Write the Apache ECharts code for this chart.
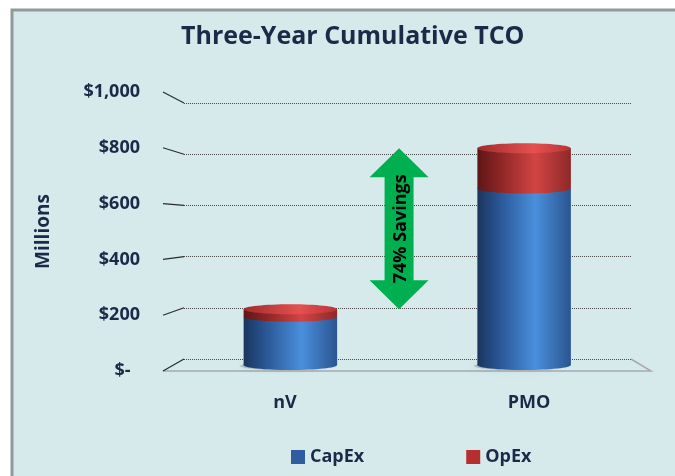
<!DOCTYPE html>
<html>
<head>
<meta charset="utf-8">
<script src="https://cdn.jsdelivr.net/npm/echarts@6/dist/echarts.min.js"></script>
<style>
    html, body { margin: 0; padding: 0; background: #fff; }
    #chart { width: 675px; height: 476px; }
</style>
</head>
<body>
<div id="chart"></div>
<script>
var categories = ['nV', 'PMO'];
var capex = [180, 660];
var opex = [28, 150];
var yTicks = [0, 200, 400, 600, 800, 1000];
var seriesNames = ['CapEx', 'OpEx'];
var savingsText = '74% Savings';

// 3d look: labels sit on the front plane, gridlines on the back wall, bars in between
var FRONT = {left: 163, right: 24, top: 92, bottom: 105};
var BACK = {left: 184, right: 44, top: 103, bottom: 117};
var MID = {
    left: (FRONT.left + BACK.left) / 2, right: (FRONT.right + BACK.right) / 2,
    top: (FRONT.top + BACK.top) / 2, bottom: (FRONT.bottom + BACK.bottom) / 2
};
var W = 675, H = 476;
var FONT = 'Open Sans';
var NAVY = '#1c2a47';

var blueSide = [
    {offset: 0, color: '#1a355e'}, {offset: 0.25, color: '#2b5898'},
    {offset: 0.62, color: '#4a8fdc'}, {offset: 1, color: '#2a5590'}
];
var redSide = [
    {offset: 0, color: '#5e1616'}, {offset: 0.25, color: '#8e2626'},
    {offset: 0.62, color: '#d24444'}, {offset: 1, color: '#8e2828'}
];
var redTop = [
    {offset: 0, color: '#a02c2c'}, {offset: 0.6, color: '#e65050'}, {offset: 1, color: '#b83434'}
];

function cylinder(name, lows, highs, side, top, legendColor, isBottom) {
    return {
        type: 'custom',
        name: name,
        xAxisIndex: 1,
        yAxisIndex: 1,
        itemStyle: {color: legendColor},
        data: categories.map(function (c, i) { return [i, lows[i], highs[i]]; }),
        encode: {x: 0, y: [1, 2]},
        renderItem: function (params, api) {
            var i = api.value(0);
            var p0 = api.coord([i, api.value(1)]);
            var p1 = api.coord([i, api.value(2)]);
            var w = api.size([1, 0])[0] * 0.4;
            var rx = w / 2, ry = 5;
            var fill = new echarts.graphic.LinearGradient(0, 0, 1, 0, side);
            var kids = [];
            if (isBottom) {
                kids.push({
                    type: 'ellipse',
                    shape: {cx: p0[0] - 8, cy: p0[1] + 1, rx: rx * 0.9, ry: ry - 1},
                    style: {fill: 'rgba(60,70,80,0.25)', shadowBlur: 6, shadowColor: 'rgba(0,0,0,0.35)'}
                });
            }
            kids.push({type: 'ellipse', shape: {cx: p0[0], cy: p0[1], rx: rx, ry: ry}, style: {fill: fill}});
            kids.push({type: 'rect', shape: {x: p0[0] - rx, y: p1[1], width: w, height: p0[1] - p1[1]}, style: {fill: fill}});
            if (top) {
                kids.push({
                    type: 'ellipse', shape: {cx: p1[0], cy: p1[1], rx: rx, ry: ry},
                    style: {fill: new echarts.graphic.LinearGradient(0, 0, 1, 0, top)}
                });
            }
            return {type: 'group', children: kids};
        }
    };
}

var totals = capex.map(function (v, i) { return v + opex[i]; });
var zeros = capex.map(function () { return 0; });

var chart = echarts.init(document.getElementById('chart'));

function yAxisFor(grid, extra) {
    var a = {type: 'value', gridIndex: grid, min: 0, max: 1000, interval: 200,
        axisLine: {show: false}, axisTick: {show: false}, axisLabel: {show: false}, splitLine: {show: false}};
    for (var k in extra) a[k] = extra[k];
    return a;
}
function xAxisFor(grid, extra) {
    var a = {type: 'category', gridIndex: grid, data: categories,
        axisLine: {show: false}, axisTick: {show: false}, axisLabel: {show: false}, splitLine: {show: false}};
    for (var k in extra) a[k] = extra[k];
    return a;
}

var option = {
    backgroundColor: '#d6eaec',
    animation: false,
    title: {
        text: 'Three-Year Cumulative TCO',
        left: 176, top: 19,
        textStyle: {fontFamily: FONT, fontWeight: 'bold', fontSize: 25, color: NAVY}
    },
    legend: {
        left: 286, top: 443,
        itemWidth: 14, itemHeight: 14, itemGap: 102,
        icon: 'rect',
        data: seriesNames,
        textStyle: {fontFamily: FONT, fontWeight: 'bold', fontSize: 18, color: NAVY}
    },
    grid: [
        {left: FRONT.left, right: FRONT.right, top: FRONT.top, bottom: FRONT.bottom},
        {left: MID.left, right: MID.right, top: MID.top, bottom: MID.bottom},
        {left: BACK.left, right: BACK.right, top: BACK.top, bottom: BACK.bottom}
    ],
    xAxis: [
        xAxisFor(0, {axisLabel: {show: true, margin: 23, fontFamily: FONT, fontWeight: 'bold', fontSize: 18, color: NAVY}}),
        xAxisFor(1, {}),
        xAxisFor(2, {})
    ],
    yAxis: [
        yAxisFor(0, {
            name: 'Millions', nameLocation: 'middle', nameGap: 110, nameRotate: 90,
            nameTextStyle: {fontFamily: FONT, fontWeight: 'bold', fontSize: 19, color: NAVY},
            axisLabel: {
                show: true, margin: 23, fontFamily: FONT, fontWeight: 'bold', fontSize: 18, color: NAVY,
                formatter: function (v) { return v === 0 ? '$-  ' : '$' + v.toLocaleString('en-US'); }
            }
        }),
        yAxisFor(1, {}),
        yAxisFor(2, {splitLine: {show: true, lineStyle: {color: '#4a4a4a', type: [1, 1], width: 1}}})
    ],
    series: [
        cylinder(seriesNames[0], zeros, capex, blueSide, null, '#2f5d9e', true),
        cylinder(seriesNames[1], capex, totals, redSide, redTop, '#b52f2f', false)
    ]
};
chart.setOption(option);

// frame, floor, diagonal ticks and the savings arrow, placed from the axes
var g = [];
g.push({type: 'rect', shape: {x: 0, y: 0, width: 11, height: H}, style: {fill: '#fff'}, silent: true});
g.push({type: 'rect', shape: {x: 0, y: 0, width: W, height: 9}, style: {fill: '#fff'}, silent: true});
g.push({type: 'polyline', shape: {points: [[12, H], [12, 10], [W, 10]]}, style: {stroke: '#8f9b9b', lineWidth: 3, fill: null}, silent: true});

var frontRight = W - FRONT.right, backRight = W - BACK.right;
var fy0 = chart.convertToPixel({yAxisIndex: 0}, 0);
var by0 = chart.convertToPixel({yAxisIndex: 2}, 0);
g.push({type: 'polyline', shape: {points: [[FRONT.left, fy0], [frontRight, fy0], [backRight, by0]]},
    style: {stroke: '#a8aaaa', lineWidth: 1.5, fill: null}, silent: true});
yTicks.forEach(function (v) {
    var fy = chart.convertToPixel({yAxisIndex: 0}, v);
    var by = chart.convertToPixel({yAxisIndex: 2}, v);
    g.push({type: 'line', shape: {x1: FRONT.left, y1: fy, x2: BACK.left, y2: by},
        style: {stroke: '#2b2b2b', lineWidth: 1.2}, silent: true});
});

var c0 = chart.convertToPixel({xAxisIndex: 1, yAxisIndex: 1}, [0, totals[0]]);
var c1 = chart.convertToPixel({xAxisIndex: 1, yAxisIndex: 1}, [1, totals[1]]);
var ax = c0[0] + (c1[0] - c0[0]) * 0.465;
var yt = c1[1], yb = c0[1];
var hw = 29.5, sw = 14.5, hh = 29;
g.push({type: 'polygon', shape: {points: [
    [ax, yt], [ax + hw, yt + hh], [ax + sw, yt + hh], [ax + sw, yb - hh], [ax + hw, yb - hh],
    [ax, yb], [ax - hw, yb - hh], [ax - sw, yb - hh], [ax - sw, yt + hh], [ax - hw, yt + hh]
]}, style: {fill: '#00b050'}, z: 10});
g.push({type: 'text', x: ax + 2, y: (yt + yb) / 2, rotation: Math.PI / 2,
    style: {text: savingsText, fontFamily: FONT, fontWeight: 'bold', fontSize: 18, fill: '#000',
        align: 'center', verticalAlign: 'middle'}, z: 11});

chart.setOption({graphic: g});
</script>
</body>
</html>
